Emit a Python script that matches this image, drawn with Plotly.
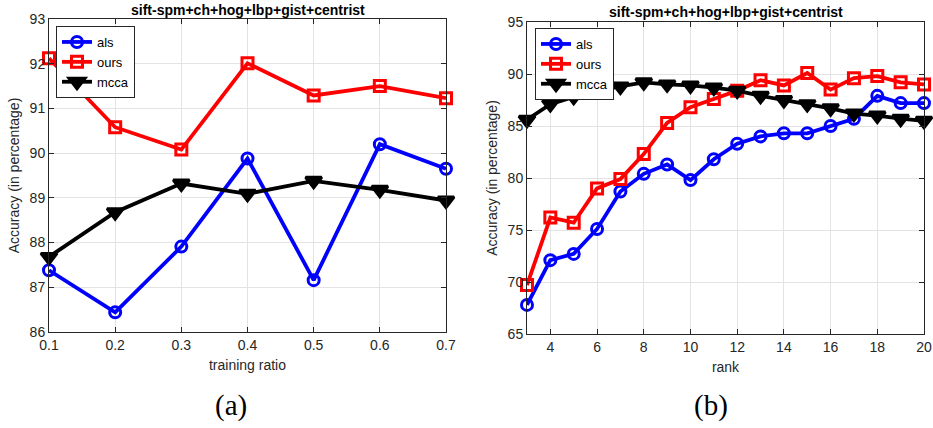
import plotly.graph_objects as go
from plotly.subplots import make_subplots

# ---- data panel (a)
ratio = [0.1, 0.2, 0.3, 0.4, 0.5, 0.6, 0.7]
als_a = [87.38, 86.44, 87.91, 89.88, 87.16, 90.20, 89.65]
ours_a = [92.12, 90.58, 90.08, 92.01, 91.29, 91.50, 91.23]
mcca_a = [87.68, 88.68, 89.32, 89.09, 89.38, 89.18, 88.94]

# ---- data panel (b)
rank = list(range(3, 21))
als_b = [67.8, 72.1, 72.7, 75.1, 78.7, 80.4, 81.3, 79.8, 81.8, 83.3, 84.0, 84.3, 84.3, 85.0, 85.7, 87.9, 87.2, 87.2]
ours_b = [69.7, 76.2, 75.7, 79.0, 79.9, 82.3, 85.3, 86.8, 87.6, 88.4, 89.4, 88.9, 90.1, 88.5, 89.6, 89.8, 89.2, 89.0]
mcca_b = [85.6, 87.1, 87.8, 88.4, 88.8, 89.2, 89.0, 88.9, 88.7, 88.4, 87.9, 87.5, 87.1, 86.7, 86.2, 86.0, 85.7, 85.5]

title_text = "sift-spm+ch+hog+lbp+gist+centrist"
ytitle = "Accuracy (in percentage)"

FONT = "Liberation Sans, Arial, sans-serif"
TXT = "#262626"

fig = make_subplots(rows=1, cols=2)

styles = [
    ("als", "#0000ff", "circle-open", 11),
    ("ours", "#ff0000", "square-open", 11),
    ("mcca", "#000000", "triangle-down", 14),
]

for col, xs, series, lg in [
    (1, ratio, [als_a, ours_a, mcca_a], "legend"),
    (2, rank, [als_b, ours_b, mcca_b], "legend2"),
]:
    for (name, color, sym, ms), ys in zip(styles, series):
        fig.add_trace(
            go.Scatter(
                x=xs, y=ys, name=name, mode="lines+markers",
                line=dict(color=color, width=3.8),
                marker=dict(symbol=sym, size=ms, color=color,
                            line=dict(color=color, width=3)),
                legend=lg, cliponaxis=False,
            ),
            row=1, col=col,
        )

axis_common = dict(
    showline=True, linecolor=TXT, linewidth=1, mirror="ticks",
    ticks="inside", ticklen=5, tickcolor=TXT,
    showgrid=True, gridcolor="#e3e3e3", gridwidth=1,
    zeroline=False, automargin=False,
    tickfont=dict(family=FONT, size=14, color=TXT),
    title_font=dict(family=FONT, size=14, color=TXT),
)

fig.update_xaxes(axis_common)
fig.update_yaxes(axis_common)

fig.update_layout(
    xaxis=dict(domain=[49 / 933, 446 / 933], range=[0.1, 0.7], dtick=0.1,
               tickformat=".1f", title=dict(text="training ratio", standoff=8)),
    yaxis=dict(domain=[1 - 332 / 428, 1 - 19 / 428], range=[86, 93], dtick=1,
               title=dict(text=ytitle, standoff=6)),
    xaxis2=dict(domain=[527 / 933, 924 / 933], range=[3, 20],
                tickvals=[4, 6, 8, 10, 12, 14, 16, 18, 20],
                title=dict(text="rank", standoff=8)),
    yaxis2=dict(domain=[1 - 334 / 428, 1 - 22 / 428], range=[65, 95], dtick=5,
                title=dict(text=ytitle, standoff=6)),
    width=933, height=428,
    margin=dict(l=0, r=0, t=0, b=0, autoexpand=False),
    plot_bgcolor="white", paper_bgcolor="white",
    legend=dict(x=56 / 933, y=1 - 26 / 428, xanchor="left", yanchor="top",
                bordercolor=TXT, borderwidth=1, bgcolor="white",
                font=dict(family=FONT, size=13, color="black"),
                tracegroupgap=0, itemwidth=30),
    legend2=dict(x=535 / 933, y=1 - 28 / 428, xanchor="left", yanchor="top",
                 bordercolor=TXT, borderwidth=1, bgcolor="white",
                 font=dict(family=FONT, size=13, color="black"),
                 tracegroupgap=0, itemwidth=30),
    annotations=[
        dict(text="<b>" + title_text + "</b>", x=(49 + 446) / 2 / 933, y=1 - 10 / 428,
             xref="paper", yref="paper", showarrow=False, xanchor="center", yanchor="middle",
             font=dict(family=FONT, size=14, color="black")),
        dict(text="<b>" + title_text + "</b>", x=(527 + 924) / 2 / 933, y=1 - 12 / 428,
             xref="paper", yref="paper", showarrow=False, xanchor="center", yanchor="middle",
             font=dict(family=FONT, size=14, color="black")),
        dict(text="(a)", x=231 / 933, y=1 - 405 / 428, xref="paper", yref="paper",
             showarrow=False, xanchor="center", yanchor="middle",
             font=dict(family="Liberation Serif, serif", size=29, color="black")),
        dict(text="(b)", x=711 / 933, y=1 - 405 / 428, xref="paper", yref="paper",
             showarrow=False, xanchor="center", yanchor="middle",
             font=dict(family="Liberation Serif, serif", size=29, color="black")),
    ],
)

fig.write_html("out.html", config={"displayModeBar": False},
               post_script="document.body.style.margin='0px';document.body.style.overflow='hidden';")
